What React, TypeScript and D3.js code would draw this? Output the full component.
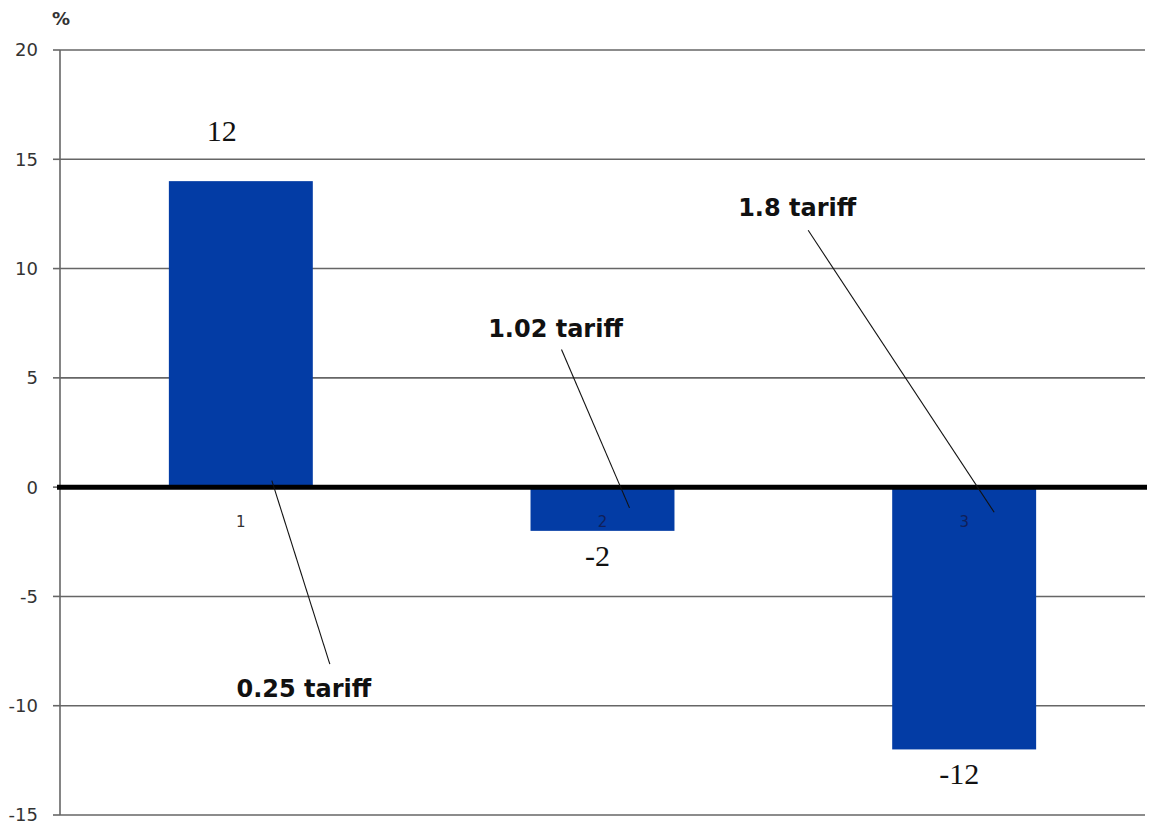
import React from "react";
import * as d3 from "d3";

// data
const categories = ["1", "2", "3"];
const values = [14, -2, -12];
const valueLabels = ["12", "-2", "-12"];
const yTicks = [-15, -10, -5, 0, 5, 10, 15, 20];
const annotationTexts = ["0.25 tariff", "1.02 tariff", "1.8 tariff"];

const W = 1150;
const H = 830;
const margin = { top: 50, right: 5, bottom: 15, left: 60 };

// annotation layout: label position and leader line ends, in data space
// (category centre + pixel dx, value on y axis)
const annotationLayout = [
  { cat: "1", labelDx: 63, labelY: -9.6, from: [31, 0.3], to: [89, -8.1] },
  { cat: "2", labelDx: -47, labelY: 6.88, from: [-41, 6.3], to: [27, -0.95] },
  { cat: "3", labelDx: -167, labelY: 12.4, from: [-156, 11.75], to: [30, -1.15] },
];

export default function App() {
  const x = d3
    .scaleBand<string>()
    .domain(categories)
    .range([margin.left, W - margin.right])
    .paddingInner(0.602)
    .paddingOuter(0.301);
  const y = d3
    .scaleLinear()
    .domain([-15, 20])
    .range([H - margin.bottom, margin.top]);

  const cx = (c: string) => (x(c) ?? 0) + x.bandwidth() / 2;
  const x0 = margin.left;
  const x1 = W - margin.right;
  const sans = "DejaVu Sans, Verdana, sans-serif";

  return (
    <svg
      width={W}
      height={H}
      style={{ position: "absolute", left: 0, top: 0, background: "#fff" }}
    >
      {/* gridlines + ticks */}
      <g>
        {yTicks.map((t) => (
          <g key={t}>
            {t !== 0 && (
              <line x1={x0} x2={x1} y1={y(t)} y2={y(t)} stroke="#666" strokeWidth={1.6} />
            )}
            <line x1={x0 - 7} x2={x0} y1={y(t)} y2={y(t)} stroke="#666" strokeWidth={1.6} />
            <text x={38} y={y(t)} dy="0.36em" textAnchor="end" fontFamily={sans} fontSize={18} fill="#333">
              {t}
            </text>
          </g>
        ))}
        <line x1={x0} x2={x0} y1={y(20)} y2={y(-15)} stroke="#666" strokeWidth={1.6} />
      </g>

      <text x={52} y={25} fontFamily={sans} fontWeight={700} fontSize={18} fill="#333">
        %
      </text>

      {/* category labels */}
      {categories.map((c) => (
        <text key={"c" + c} x={cx(c)} y={527} textAnchor="middle" fontFamily={sans} fontSize={15} fill="#333">
          {c}
        </text>
      ))}

      {/* bars */}
      {categories.map((c, i) => (
        <rect
          key={"b" + c}
          x={x(c)}
          width={x.bandwidth()}
          y={y(Math.max(0, values[i]))}
          height={Math.abs(y(values[i]) - y(0))}
          fill="#033ca5"
        />
      ))}
      {/* labels that sit on top of the negative bars */}
      {categories.map((c, i) =>
        values[i] < 0 ? (
          <text key={"ci" + c} x={cx(c)} y={527} textAnchor="middle" fontFamily={sans} fontSize={15} fill="#10205a">
            {c}
          </text>
        ) : null
      )}

      {/* zero line */}
      <line x1={x0 - 3} x2={x1 + 2} y1={y(0)} y2={y(0)} stroke="#000" strokeWidth={5} />

      {/* value labels */}
      {categories.map((c, i) => (
        <text
          key={"v" + c}
          x={cx(c) + (i === 0 ? -19 : -5)}
          y={values[i] >= 0 ? y(values[i]) - 40 : y(values[i]) + 35}
          textAnchor="middle"
          fontFamily="Liberation Serif, Times New Roman, serif"
          fontSize={30}
          fill="#111"
        >
          {valueLabels[i]}
        </text>
      ))}

      {/* annotations */}
      {annotationLayout.map((a, i) => (
        <g key={"a" + i}>
          <line
            x1={cx(a.cat) + a.from[0]}
            y1={y(a.from[1])}
            x2={cx(a.cat) + a.to[0]}
            y2={y(a.to[1])}
            stroke="#111"
            strokeWidth={1.1}
          />
          <text
            x={cx(a.cat) + a.labelDx}
            y={y(a.labelY)}
            textAnchor="middle"
            fontFamily={sans}
            fontWeight={700}
            fontSize={24}
            fill="#111"
          >
            {annotationTexts[i]}
          </text>
        </g>
      ))}
    </svg>
  );
}
